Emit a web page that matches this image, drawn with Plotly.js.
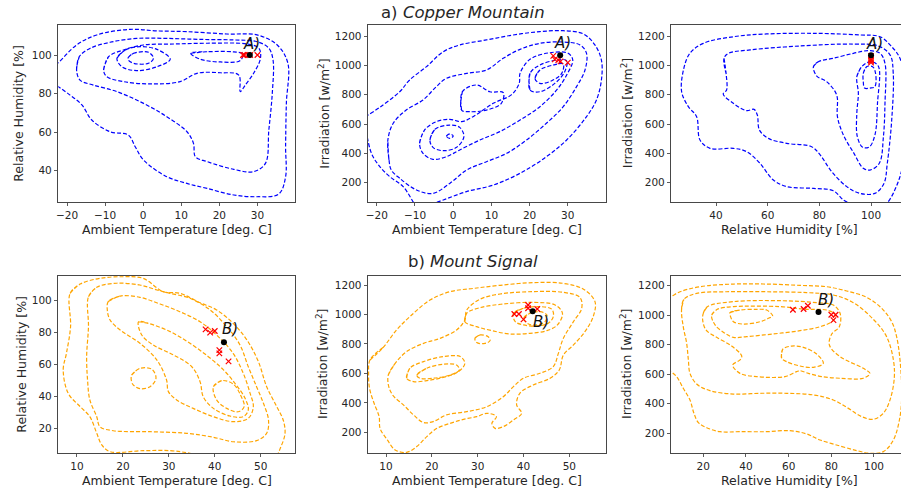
<!DOCTYPE html>
<html><head><meta charset="utf-8">
<script src="https://cdn.plot.ly/plotly-3.0.1.min.js"></script>
<style>html,body{margin:0;padding:0;background:#fff}#chart{width:901px;height:494px}</style>
</head><body><div id="chart"></div>
<script>
// ---------- Copper Mountain selected points ----------
const cmTemp = [26.2, 26.6, 27.5, 28.1, 30.0];
const cmRH   = [100, 100, 100, 100, 100];
const cmIrr  = [1064, 1041, 1036, 1027, 1018];
const cmBest = {temp: 28.0, rh: 100, irr: 1068};
// ---------- Mount Signal selected points ----------
const msTemp = [38, 39, 40, 41, 41, 43];
const msRH   = [82, 80, 81, 69, 67, 62];
const msIrr  = [1003, 1003, 967, 1064, 1042, 1037];
const msBest = {temp: 42, rh: 74, irr: 1022};

// ---------- density contour lines ----------
const cmTR_open = [
  [[-23,95],[-22.3,96],[-17.5,105.2],[-12.2,110.4],[-3.4,113.3],[3.6,112.5],[11.5,112.1],[22,110.9],[29.9,110.4],[35.2,105.2],[38,95.7],[37.6,74.9],[37.4,52.4],[37.4,36.9],[35.6,27.9],[29.9,26.5],[23.8,27.4],[16.8,30.8],[11.5,33.4],[6.2,36.9],[0.1,45.5],[-2.1,52.4],[-3.9,58.5],[-8.7,60.2],[-13.5,66.3],[-16.1,74.1],[-19.2,79.2],[-22.3,83.6],[-23,84.5]]
];
const cmTR_closed = [
  [[-17.5,92.2],[-16.8,99.1],[-13.9,103.5],[-8.7,106.6],[-1.7,108.6],[6.2,108.6],[15,108.1],[23.8,107.8],[29.9,106.9],[33,103.5],[34.1,97.4],[33.9,80.1],[33,61.1],[32.1,43.8],[29,39.5],[23.8,40.7],[16.8,44.7],[13.7,47.3],[13.2,54.2],[11.5,60.2],[6.2,68],[0.1,74.9],[-6.9,81],[-13.1,84.4],[-16.6,87]],
  [[-10.4,92.2],[-9.1,99.1],[-5.2,102.6],[0.1,105.2],[8,105.7],[16.8,106.1],[27.3,105.7],[30.4,103.5],[30.8,98.3],[29,90.5],[26.8,84.4],[25.5,81],[25.1,89.6],[20.3,90.8],[14.1,90.5],[9.7,86.2],[1.8,85],[-5.2,86.2],[-9.6,88.8]],
  [[-6.9,98.3],[-4.7,102.6],[-0.8,104.3],[3.6,102.9],[7.1,97.8],[3.6,93.9],[-1.7,91.9],[-5.6,93.9]],
  [[12.5,100.9],[16.8,101.7],[23.8,101.6],[26.2,100.5],[25.4,97],[20.3,96.4],[15,97.8]],
  [[-3.9,98.8],[-2.5,100.9],[1.4,101.4],[2.7,98.3],[1.4,95.7],[-2.5,95.7],[-3.9,97.4]]
];
const cmTI_open = [
  [[-23,590],[-21.4,400],[-19.2,309],[-16.6,241],[-13.1,173],[-10.1,55],[-9.5,40]],
  [[-23,650],[-22.3,661],[-19.2,714],[-14,820],[-11.4,900],[-7,991],[-2.6,1093],[1.7,1139],[8.7,1173],[15.7,1207],[22.7,1230],[28.8,1236],[34.1,1214],[37.1,1139],[38.8,1036],[38.8,900],[37.5,764],[34.9,650],[29.7,491],[24.4,377],[17.5,264],[10.5,184],[3.5,139],[-2.6,82],[-5.3,55],[-6,40]]
];
const cmTI_closed = [
  [[-16.8,355],[-17.1,491],[-15.7,605],[-12.3,695],[-7.9,764],[-4.4,855],[-1.8,911],[3.5,945],[8.7,968],[13.1,1048],[17.5,1109],[22.7,1150],[28.8,1159],[33.2,1139],[34.9,1082],[34.5,968],[32.3,855],[28.8,718],[24.4,605],[19.2,491],[14,400],[8.7,343],[3.5,286],[-0.9,195],[-5.3,127],[-9.6,150],[-14,230],[-16.2,286]],
  [[2.2,695],[2.4,820],[6.1,866],[9.6,820],[13.1,814],[12.6,741],[8.7,695],[4.3,684]],
  [[-8.8,468],[-7.5,559],[-4.4,616],[-0.9,632],[2.2,616],[5.2,650],[10.5,741],[15.3,800],[17.3,880],[17.5,945],[20.1,1041],[25.3,1086],[30.1,1082],[31.3,1036],[29.7,934],[27.1,832],[22.7,718],[17.5,627],[12.2,548],[7,491],[1.7,423],[-1.8,377],[-5.3,359],[-7.9,400]],
  [[20.1,832],[20.1,945],[22.7,1002],[27.1,1036],[29.7,1032],[29.2,957],[26.6,877],[22.7,820]],
  [[21.4,911],[22.7,968],[26.2,1002],[28.8,1009],[28.4,945],[25.8,895],[22.7,877]],
  [[-6.1,491],[-4.8,564],[-0.9,593],[1.7,577],[2.8,514],[0.9,441],[-2.6,418],[-5.3,441]],
  [[-1.8,518],[-0.9,532],[0,518],[-0.9,502]]
];
const cmRI_open = [
  [[92.5,40],[91.9,55],[89.3,82],[85.4,145],[77.7,161],[67.4,173],[62.2,218],[57,332],[51.9,411],[46.7,434],[37.7,434],[33.8,491],[32.5,650],[29.3,718],[26.7,820],[27.4,968],[29.9,1082],[35.1,1150],[46.7,1195],[59.6,1214],[79,1218],[95.7,1207],[103.5,1195],[108,1127],[111.2,1048],[113.2,855],[113.2,514],[111.9,286],[108.6,127],[106.1,55],[105.5,40]]
];
const cmRI_closed = [
  [[43.1,1048],[43.9,945],[44.1,832],[42.8,805],[46.7,741],[51.9,691],[54.7,700],[56,661],[56.8,559],[60.3,502],[67.4,468],[77,445],[80.3,389],[84.8,275],[90.6,173],[95.7,127],[101.5,127],[105,195],[106.3,332],[108,627],[108.6,945],[107.4,1070],[102.8,1132],[93.2,1145],[72.5,1132],[53.2,1105],[44.8,1082]],
  [[77.7,991],[79.6,1025],[85.4,1048],[93.2,1082],[99,1100],[103.5,1082],[105.4,1014],[105.4,741],[104.8,514],[103.2,332],[99.6,286],[97,298],[93.4,400],[89.3,525],[87,650],[86.7,798],[82.8,889],[79,927]],
  [[94.5,923],[96.4,991],[99.9,1025],[102.8,995],[102.5,741],[101.5,525],[99.4,445],[96.8,441],[94.7,514],[94.5,673],[95.1,809]],
  [[97,945],[98.3,991],[100.6,991],[101.7,950],[101.5,855],[99.6,845],[97.5,845],[97,889]]
];
const msTR_open = [];
const msTR_closed = [
  [[8.5,104.6],[10.7,110.4],[15,114],[20.1,115],[24.4,114],[28.8,105.6],[32.4,104.6],[36.8,98.7],[40.4,94.2],[44,85.8],[47,75.4],[49.5,61.8],[51.3,46.1],[53.5,33.6],[54.9,25.2],[55.3,16.9],[54.4,8.5],[53.1,2.2],[44,-0.8],[34.6,4.4],[30.3,6],[24.4,6],[17.2,5.4],[15.4,9.6],[14.3,16.9],[12.8,27.3],[10.7,33.6],[8.1,41.9],[7,56.6],[7.7,67],[8.6,83.7]],
  [[12.5,102.5],[14.3,108.4],[18.6,110.9],[23.7,109.8],[27.4,106.7],[30.3,104.6],[34.6,101.5],[39,94.2],[42.6,83.7],[45.5,72.2],[47.3,58.6],[49.1,46.1],[50.6,35.7],[51.7,25.2],[51.3,16.9],[49.1,12.3],[44,11.6],[39.7,14.4],[33.9,16.9],[25.9,17.9],[17.9,18.5],[15,21],[14.3,27.3],[12.8,37.8],[12.3,50.3],[12.1,64.9],[12.5,83.7]],
  [[16.8,99.4],[19.4,102.9],[23.7,102.1],[28.1,97.9],[32.4,93.1],[36.8,86.8],[40.4,78.5],[44,67],[46.2,54.5],[47.7,41.9],[48.4,33.6],[47.3,26.3],[44,24.2],[39.7,27.3],[35.3,32.5],[31.7,37.8],[29.9,43],[29.5,50.3],[27.4,62.8],[23.7,73.3],[19.4,81.6],[17.2,87.9],[16.6,94.2]],
  [[23.4,86.8],[25.5,85.8],[30.3,80.6],[34.6,73.3],[38.6,64.9],[41.9,56.6],[44.4,48.2],[46.6,38.8],[47.3,31.5],[46.2,27.3],[43.3,27.7],[39.7,32.5],[37.5,39.8],[36.8,49.2],[35,58.6],[31,66],[26.6,72.2],[24.1,78.5]],
  [[21.9,53.4],[23.7,57.6],[26.3,57],[27.2,51.3],[25.9,46.1],[23.7,44.9],[22.1,47.8]],
  [[39.7,46.1],[41.5,49.9],[44,47.8],[45.6,40.9],[46.4,33.6],[45.1,30.4],[42.6,32.5],[40.4,37.8]]
];
const msTI_open = [];
const msTI_closed = [
  [[6.5,691],[9.4,777],[12.3,895],[15.2,985],[19.6,1098],[24,1155],[29.1,1177],[34.9,1198],[42.1,1216],[48.7,1211],[53.1,1171],[55.6,1087],[55.2,985],[53.4,883],[50.9,793],[48.7,725],[47.8,623],[45.8,567],[42.1,521],[39.2,465],[38.5,386],[39.6,329],[37.8,284],[35.6,239],[33.8,227],[33.1,261],[34.1,306],[32,329],[29.8,306],[26.9,288],[24,261],[21.1,227],[18.9,171],[16.7,103],[14.5,64],[12,80],[10.3,148],[8.7,227],[8.5,306],[7.4,397],[6.4,499],[6.2,601]],
  [[10.5,589],[12,668],[14.5,748],[18.2,804],[21.8,838],[25.4,895],[27.2,962],[27.6,1030],[30.5,1103],[34.9,1139],[42.1,1155],[48.7,1150],[52.3,1116],[52.7,1042],[50.9,951],[48.7,838],[47.6,736],[46.5,646],[43.6,601],[40,567],[37.8,510],[35.6,442],[32,374],[27.6,340],[23.2,318],[20.3,273],[18.2,266],[16,318],[13.8,386],[11.6,447],[10.6,510]],
  [[29.4,838],[30.5,861],[32.3,849],[32.7,822],[31.6,804],[29.8,809]],
  [[27.2,951],[27.6,1008],[30.5,1046],[35.6,1071],[42.1,1082],[46.9,1064],[48.5,1008],[47.4,929],[45.1,890],[41.4,872],[37.1,867],[33.1,890],[29.8,917]],
  [[14.5,567],[15.2,635],[18.2,680],[22.5,714],[26.2,714],[27.2,668],[25.8,612],[22.5,573],[18.9,551],[16,544]],
  [[37.8,1008],[40,1042],[43.6,1053],[46.2,1035],[46.5,985],[45.4,940],[42.9,922],[40,929],[38.2,951]],
  [[16.7,589],[18.9,635],[22.5,662],[25.4,657],[26,623],[24,589],[20.3,567],[17.4,567]],
  [[40,974],[41.4,1008],[43.6,1019],[45.1,996],[44.7,951],[42.9,929],[41.1,935]]
];
const msRI_open = [
  [[3,1120],[4.7,1126],[9.1,1159],[18.4,1193],[34.1,1211],[49.7,1211],[65.3,1202],[77.8,1193],[87.2,1164],[96.6,1121],[103.6,1047],[108.3,956],[110.6,855],[112.2,697],[113,471],[112.2,313],[109.1,155],[104.4,76],[98.1,65],[91.9,83],[84.1,114],[74.7,155],[68.4,196],[60.6,218],[49.7,211],[37.2,211],[27.8,211],[21.6,238],[17.7,272],[15.6,336],[13.75,426],[10.6,505],[7.5,584],[4.7,618],[3,625]]
];
const msRI_closed = [
  [[9.8,1035],[10.9,1107],[16.9,1148],[30.9,1159],[49.7,1159],[68.4,1153],[80.9,1137],[90.3,1085],[99.7,972],[105.9,855],[109.1,697],[109.5,573],[107.5,426],[104.4,336],[99.7,295],[94.2,313],[88,369],[80.9,426],[71.6,460],[59.1,471],[46.6,471],[34.1,466],[23.1,489],[16.9,534],[13.75,606],[13,697],[12.2,810],[10.6,922]],
  [[20,1013],[21.9,1058],[34.1,1092],[57.5,1098],[73.1,1085],[80.9,1069],[84.1,1013],[83.75,922],[80.2,873],[79.1,798],[84.1,719],[95,640],[98.1,606],[95,573],[84.1,573],[75.5,584],[69.2,606],[65.3,624],[63.75,618],[58.3,584],[45,584],[37.2,606],[33.75,663],[37.2,697],[38,724],[33.3,791],[26.25,850],[21.25,900],[19.7,968]],
  [[56.7,708],[57.2,769],[61.4,791],[66.9,782],[73.1,737],[76.25,674],[71.6,647],[65.3,656],[59.1,685]],
  [[23.9,1001],[26.6,1040],[34.1,1058],[55.9,1058],[68.4,1040],[77.8,1035],[81.7,1008],[80.9,963],[74.7,922],[65.3,895],[52.8,873],[40.3,855],[34.1,850],[29.7,882],[25.5,934]],
  [[32.5,1017],[37.2,1035],[45,1040],[49.7,1035],[52.5,995],[50.5,979],[46.6,956],[38.75,940],[34.1,956],[32.8,990]]
];

// ---------- axis ticks ----------
const tempTicksCM = [-20, -10, 0, 10, 20, 30];
const tempTicksMS = [10, 20, 30, 40, 50];
const rhTicksCM = [40, 60, 80, 100];
const rhTicksMS = [20, 40, 60, 80, 100];
const irrTicks = [200, 400, 600, 800, 1000, 1200];
const rhXTicksCM = [40, 60, 80, 100];
const rhXTicksMS = [20, 40, 60, 80, 100];

// ---------- build ----------
const BLUE = '#0000ff', ORANGE = '#ffa500';
const traces = [];
function addLines(paths, closed, ax, color) {
  paths.forEach(p => {
    const pts = closed ? p.concat([p[0], p[1]]) : p;
    traces.push({
      type: 'scatter', mode: 'lines', xaxis: ax[0], yaxis: ax[1],
      x: pts.map(q => q[0]), y: pts.map(q => q[1]),
      line: {color: color, width: 1.2, dash: '4px,2px', shape: 'spline', smoothing: 1},
      hoverinfo: 'skip'
    });
  });
}
function addPoints(xs, ys, bx, by, ax) {
  traces.push({type: 'scatter', mode: 'markers', xaxis: ax[0], yaxis: ax[1], x: xs, y: ys,
    marker: {symbol: 'x-thin', size: 5.5, line: {color: 'red', width: 1.2}, color: 'red'}});
  traces.push({type: 'scatter', mode: 'markers', xaxis: ax[0], yaxis: ax[1], x: [bx], y: [by],
    marker: {symbol: 'circle', size: 6, color: 'black'}});
}
const A1 = ['x', 'y'], A2 = ['x2', 'y2'], A3 = ['x3', 'y3'], A4 = ['x4', 'y4'], A5 = ['x5', 'y5'], A6 = ['x6', 'y6'];
addLines(cmTR_open, false, A1, BLUE); addLines(cmTR_closed, true, A1, BLUE);
addLines(cmTI_open, false, A2, BLUE); addLines(cmTI_closed, true, A2, BLUE);
addLines(cmRI_open, false, A3, BLUE); addLines(cmRI_closed, true, A3, BLUE);
addLines(msTR_open, false, A4, ORANGE); addLines(msTR_closed, true, A4, ORANGE);
addLines(msTI_open, false, A5, ORANGE); addLines(msTI_closed, true, A5, ORANGE);
addLines(msRI_open, false, A6, ORANGE); addLines(msRI_closed, true, A6, ORANGE);
addPoints(cmTemp, cmRH, cmBest.temp, cmBest.rh, A1);
addPoints(cmTemp, cmIrr, cmBest.temp, cmBest.irr, A2);
addPoints(cmRH, cmIrr, cmBest.rh, cmBest.irr, A3);
addPoints(msTemp, msRH, msBest.temp, msBest.rh, A4);
addPoints(msTemp, msIrr, msBest.temp, msBest.irr, A5);
addPoints(msRH, msIrr, msBest.rh, msBest.irr, A6);

const W = 901, H = 494;
const FONT = 'DejaVu Sans';
const cols = [[58.3, 295.5], [368, 606], [671.3, 901]];
const rows = [[25, 202], [275.5, 453]];
const xd = c => [cols[c][0] / W, cols[c][1] / W];
const yd = r => [1 - rows[r][1] / H, 1 - rows[r][0] / H];
function axis(domain, range, tickvals, anchor) {
  return {domain, range, tickvals, anchor, ticks: 'outside', ticklen: 3.5, tickwidth: 0.8,
    tickcolor: '#333', showline: true, linecolor: '#333', linewidth: 0.9, mirror: true,
    showgrid: false, zeroline: false, fixedrange: true,
    tickfont: {family: FONT, size: 10.5, color: '#262626'}};
}
const layout = {
  width: W, height: H, margin: {l: 0, r: 0, t: 0, b: 0},
  paper_bgcolor: '#fff', plot_bgcolor: '#fff', showlegend: false,
  font: {family: FONT, color: '#262626'},
  xaxis: axis(xd(0), [-22.3, 40], tempTicksCM, 'y'),
  yaxis: axis(yd(0), [23.77, 115.56], rhTicksCM, 'x'),
  xaxis2: axis(xd(1), [-22.3, 40], tempTicksCM, 'y2'),
  yaxis2: axis(yd(0), [68.2, 1275], irrTicks, 'x2'),
  xaxis3: axis(xd(2), [22.7, 111.6], rhXTicksCM, 'y3'),
  yaxis3: axis(yd(0), [68.2, 1275], irrTicks, 'x3'),
  xaxis4: axis(xd(0), [5.93, 57.58], tempTicksMS, 'y4'),
  yaxis4: axis(yd(1), [4.54, 115.77], rhTicksMS, 'x4'),
  xaxis5: axis(xd(1), [6.07, 58.0], tempTicksMS, 'y5'),
  yaxis5: axis(yd(1), [59.5, 1264.5], irrTicks, 'x5'),
  xaxis6: axis(xd(2), [5.0, 112.66], rhXTicksMS, 'y6'),
  yaxis6: axis(yd(1), [66.6, 1269], irrTicks, 'x6'),
  annotations: []
};
const ann = layout.annotations;
function paperText(text, px, py, size, angle, anchor, style) {
  ann.push({text, x: px / W, y: 1 - py / H, xref: 'paper', yref: 'paper', showarrow: false,
    xanchor: anchor || 'center', yanchor: 'middle', textangle: angle || 0,
    font: {family: FONT, size, color: '#262626', style: style || 'normal'}});
}
// subfigure titles: letter upright, site name italic
paperText('a)', 379, 12, 16.5, 0, 'left');
paperText('Copper Mountain', 400.5, 12, 16.5, 0, 'left', 'italic');
paperText('b)', 406, 261, 16.5, 0, 'left');
paperText('Mount Signal', 428, 261, 16.5, 0, 'left', 'italic');
const TT = 'Ambient Temperature [deg. C]', RHT = 'Relative Humidity [%]', IRT = 'Irradiation [w/m<sup>2</sup>]';
paperText(TT, 176.9, 229.7, 12.5); paperText(TT, 487, 229.7, 12.5); paperText(RHT, 789.5, 229.7, 12.5);
paperText(TT, 176.9, 480.7, 12.5); paperText(TT, 487, 480.7, 12.5); paperText(RHT, 789.5, 480.7, 12.5);
paperText(RHT, 18.3, 113.5, 12.5, -90); paperText(IRT, 323.3, 113.5, 12.5, -90); paperText(IRT, 626.7, 113.5, 12.5, -90);
paperText(RHT, 20.7, 364, 12.5, -90); paperText(IRT, 322, 364, 12.5, -90); paperText(IRT, 626, 364, 12.5, -90);
function label(text, x, y, xr, yr, dx, dy) {
  ann.push({text, x, y, xref: xr, yref: yr, showarrow: false,
    xanchor: 'center', yanchor: 'middle', xshift: dx, yshift: dy,
    font: {family: FONT, size: 15, color: '#111', style: 'italic'}});
}
label('A)', cmBest.temp, cmBest.rh, 'x', 'y', 2, 11);
label('A)', cmBest.temp, cmBest.irr, 'x2', 'y2', 2, 12);
label('A)', cmBest.rh, cmBest.irr, 'x3', 'y3', 3, 11);
label('B)', msBest.temp, msBest.rh, 'x4', 'y4', 6, 13);
label('B)', msBest.temp, msBest.irr, 'x5', 'y5', 8, -11);
label('B)', msBest.rh, msBest.irr, 'x6', 'y6', 7, 12);

Plotly.newPlot('chart', traces, layout, {staticPlot: true, displayModeBar: false});
</script></body></html>
